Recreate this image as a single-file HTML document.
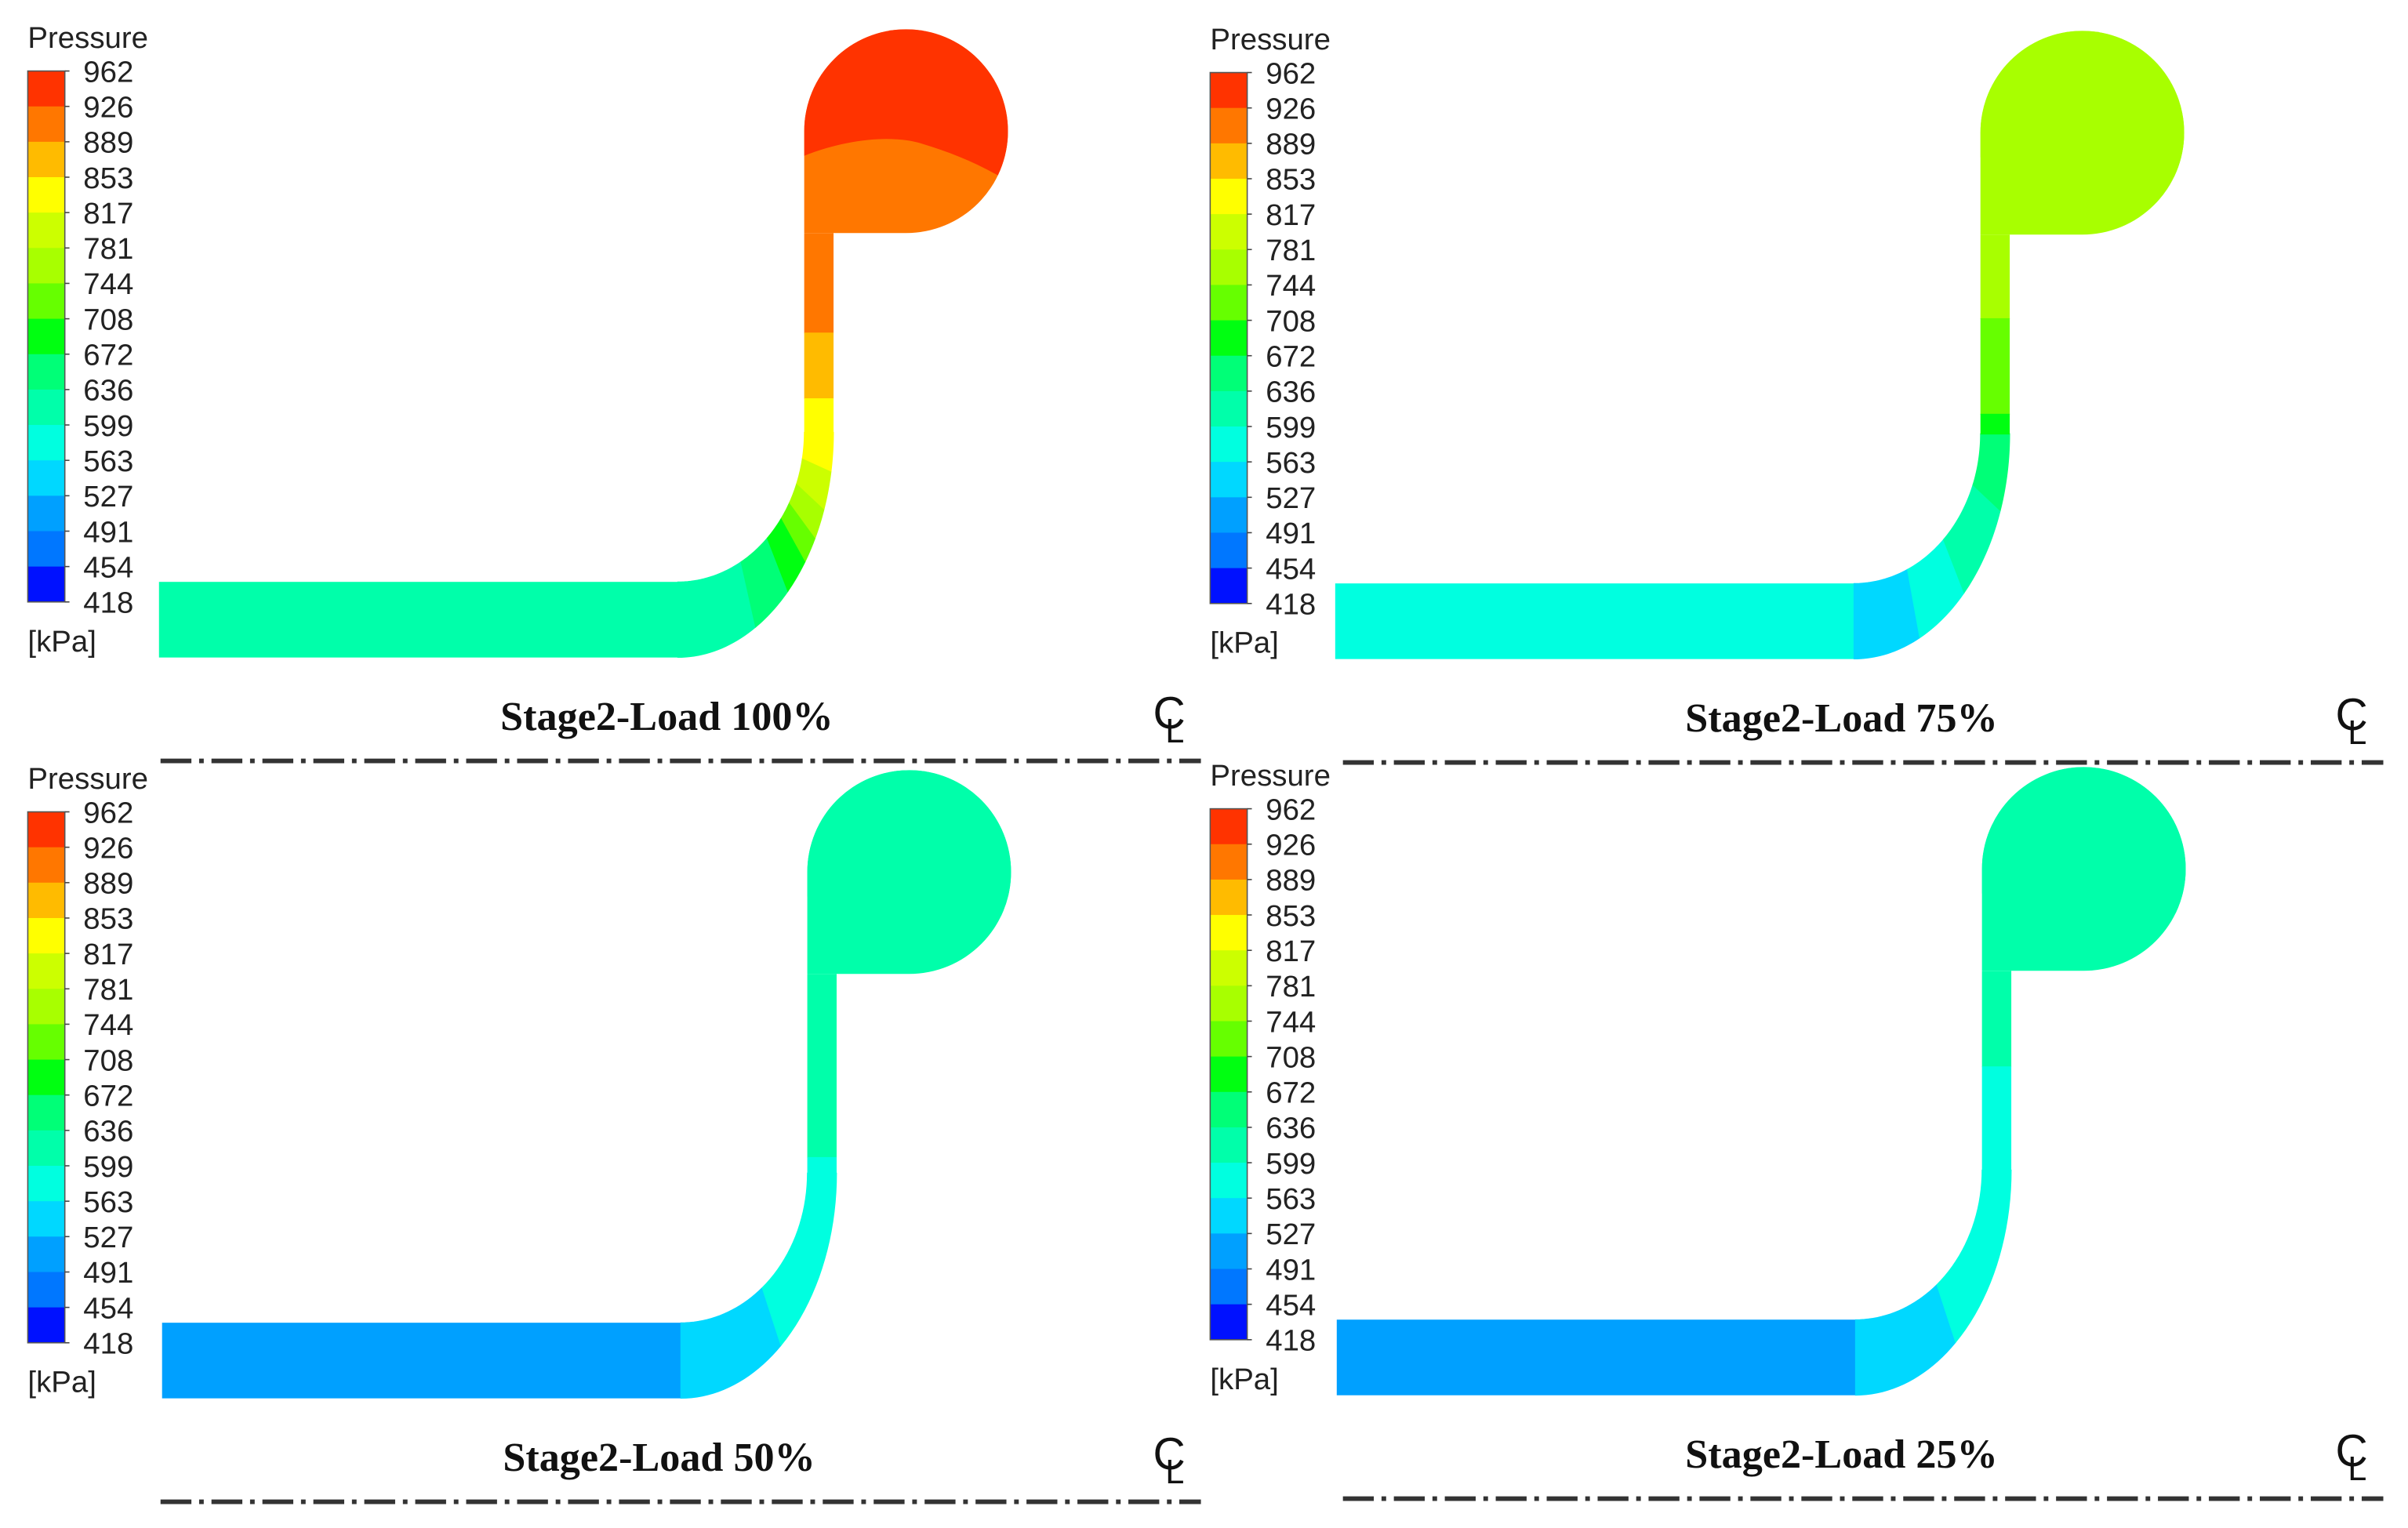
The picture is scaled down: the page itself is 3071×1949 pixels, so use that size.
<!DOCTYPE html>
<html><head><meta charset="utf-8"><style>
html,body{margin:0;padding:0;background:#fff;}
svg{display:block;}
</style></head><body>
<svg id="fig" width="3071" height="1949" viewBox="0 0 1560 990" preserveAspectRatio="none" xmlns="http://www.w3.org/2000/svg"></svg>
<script>
// ---- data ----
const tickValues = [962, 926, 889, 853, 817, 781, 744, 708, 672, 636, 599, 563, 527, 491, 454, 418];
const bandColors = ['#ff3300','#ff7700','#ffbb00','#ffff00','#ccff00','#a8ff00','#66ff00','#00ff11','#00ff77','#00ffaa','#00ffe0','#00d8ff','#00a0ff','#0077ff','#0011ff'];
const panelTitles = ['Stage2-Load 100%','Stage2-Load 75%','Stage2-Load 50%','Stage2-Load 25%'];
const bulbTopValues = [944, 762, 630, 617];
const bulbBottomValues = [908, 762, 630, 617];
const horizontalValues = [617, 575, 509, 509];
// vertical pipe segments: [fraction start (top), fraction end, pressure kPa]
const verticalSegments = [
  [[0,0.5,908],[0.5,0.83,871],[0.83,1,835]],
  [[0,0.42,762],[0.42,0.9,735],[0.9,1,690]],
  [[0,0.92,617],[0.92,1,581]],
  [[0,0.48,617],[0.48,1,581]]
];
// bend sectors: [angle start deg (0=horizontal end), angle end, pressure kPa]
const bendSectors = [
  [[0,30,617],[30,45,654],[45,55,690],[55,62,726],[62,70,762],[70,80,799],[80,90,835]],
  [[0,25,545],[25,45,581],[45,70,617],[70,90,654]],
  [[0,40,545],[40,90,581]],
  [[0,40,545],[40,90,581]]
];

const NS='http://www.w3.org/2000/svg';
const svg=document.getElementById('fig');
function colorOf(v){
  const lo=418, hi=962, n=bandColors.length;
  let i=Math.floor((hi-v)/((hi-lo)/n));
  i=Math.max(0,Math.min(n-1,i));
  return bandColors[i];
}
function mk(tag,attrs,parent){
  const e=document.createElementNS(NS,tag);
  for(const k in attrs) e.setAttribute(k,attrs[k]);
  (parent||svg).appendChild(e);
  return e;
}
const panelOffsets=[[0,0],[766,1],[0,480],[766,478]];
const pipeOffsets=[[0,0],[-4,0],[2,0],[-3,0]];
const titleX=[432,427,427,427];

panelOffsets.forEach((off,p)=>{
  const g=mk('g',{transform:`translate(${off[0]},${off[1]})`});
  
  
  const t=mk('text',{x:18,y:31,'font-family':'Liberation Sans, sans-serif','font-size':19.5,fill:'#222'},g);
  t.textContent='Pressure';
  
  
  const cbTop=46, cbBot=390, cbX=18, cbW=24;
  const bh=(cbBot-cbTop)/bandColors.length;
  bandColors.forEach((c,i)=>{
    const r=mk('rect',{x:cbX,y:cbTop+i*bh,width:cbW,height:bh+0.3,fill:c},g);
    
    
  });
  mk('rect',{x:cbX,y:cbTop,width:cbW,height:cbBot-cbTop,fill:'none',stroke:'#555','stroke-width':0.8},g);
  tickValues.forEach((v,i)=>{
    const y=cbTop+i*bh;
    mk('line',{x1:cbX+cbW,x2:cbX+cbW+3,y1:y,y2:y,stroke:'#444','stroke-width':0.8},g);
    const tt=mk('text',{x:54,y:y+7,'font-family':'Liberation Sans, sans-serif','font-size':19.5,fill:'#222'},g);
    tt.textContent=v;
    
    
  });
  const u=mk('text',{x:18,y:422,'font-family':'Liberation Sans, sans-serif','font-size':19.5,fill:'#222'},g);
  u.textContent='[kPa]';
  
  

  const po=pipeOffsets[p];
  const pg=mk('g',{transform:`translate(${po[0]},${po[1]})`},g);
  
  
  const hx0=103, hx1=439, hy0=377, hy1=426;
  const vx0=521, vx1=540, vTop=151, vBot=280;
  const cx=439, cy=vBot, rxo=vx1-cx, ryo=hy1-cy, rxi=vx0-cx, ryi=hy0-cy;
  const h=mk('rect',{x:hx0,y:hy0,width:hx1-hx0+0.5,height:hy1-hy0,fill:colorOf(horizontalValues[p])},pg);
  
  
  bendSectors[p].forEach(s=>{
    const a0=s[0]*Math.PI/180, a1=s[1]*Math.PI/180;
    let pts=[];
    const N=20;
    for(let k=0;k<=N;k++){const a=a0+(a1-a0)*k/N; pts.push([cx+rxo*Math.sin(a), cy+ryo*Math.cos(a)]);}
    for(let k=N;k>=0;k--){const a=a0+(a1-a0)*k/N; pts.push([cx+rxi*Math.sin(a), cy+ryi*Math.cos(a)]);}
    const col=colorOf(s[2]);
    const e=mk('polygon',{points:pts.map(q=>q[0].toFixed(2)+','+q[1].toFixed(2)).join(' '),fill:col,stroke:col,'stroke-width':0.4},pg);
    
    
  });
  verticalSegments[p].forEach(s=>{
    const y0=vTop+(vBot-vTop)*s[0], y1=vTop+(vBot-vTop)*s[1];
    const e=mk('rect',{x:vx0,y:y0,width:vx1-vx0,height:y1-y0+0.5,fill:colorOf(s[2])},pg);
    
    
  });
  const bcx=587, bcy=85, br=66;
  const bulbPath=`M${vx0},${bcy} A${br},${br} 0 1 1 ${bcx},${bcy+br} L${vx0},${bcy+br} Z`;
  const b=mk('path',{d:bulbPath,fill:colorOf(bulbBottomValues[p])},pg);
  
  
  const cid='clipb'+p;
  const cp=mk('clipPath',{id:cid},pg);
  mk('path',{d:bulbPath},cp);
  const top=mk('path',{d:`M${vx0-5},${bcy+18} C${vx0+25},${bcy+5} ${bcx-10},${bcy+2} ${bcx+10},${bcy+8} C${bcx+30},${bcy+14} ${bcx+50},${bcy+22} ${bcx+70},${bcy+35} L${bcx+80},0 L${vx0-5},0 Z`,fill:colorOf(bulbTopValues[p]),'clip-path':`url(#${cid})`},pg);
  
  

  const ti=mk('text',{x:titleX[p],y:473,'text-anchor':'middle','font-family':'Liberation Serif, serif','font-weight':'bold','font-size':26.5,fill:'#111'},g);
  ti.textContent=panelTitles[p];
  
  
  const c1=mk('text',{x:747,y:472,'font-family':'Liberation Sans, sans-serif','font-size':29,fill:'#111'},g);
  c1.textContent='C';
  
  
  const c2=mk('text',{x:755,y:481,'font-family':'Liberation Sans, sans-serif','font-size':22,fill:'#111'},g);
  c2.textContent='L';
  
  
  const ln=mk('line',{x1:104,x2:778,y1:493,y2:493,stroke:'#333','stroke-width':3,'stroke-dasharray':'20 5 3 5'},g);
  
  
});
</script>
</body></html>
